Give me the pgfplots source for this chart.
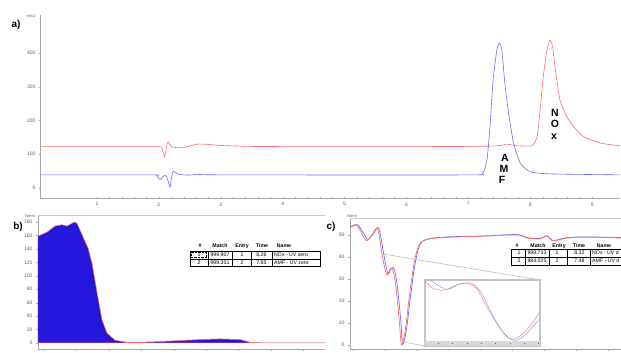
\documentclass[border=0pt]{standalone}
\usepackage{pgfplots}
\pgfplotsset{compat=1.18}
\usepackage{fontspec}
\setmainfont{Liberation Sans}
\definecolor{lred}{rgb}{1,0.42,0.42}
\definecolor{lblue}{rgb}{0.42,0.42,1}
\definecolor{fillblue}{rgb}{0.14,0.09,0.86}
\definecolor{tickc}{rgb}{0.38,0.36,0.48}
\definecolor{axc}{rgb}{0.66,0.66,0.66}
\pgfplotsset{every axis/.append style={scale only axis, anchor=south west,
  tick label style={font=\fontsize{5}{6}\selectfont, text=tickc},
  /pgf/number format/assume math mode=true,
  tick align=outside, axis line style={-,axc}, tick style={axc},
  major tick length=2pt, minor tick length=1pt}}
\newcommand{\tf}{\fontsize{5.2}{6}\selectfont}
\begin{document}
\begin{tikzpicture}
\useasboundingbox (0,0) rectangle (621pt,353pt);
\clip (0,0) rectangle (621pt,353pt);
% ---------- panel a
\begin{axis}[at={(40pt,155pt)}, width=580pt, height=183pt,
  xmin=0.08, xmax=9.45, ymin=-30, ymax=513,
  axis x line=bottom, axis y line=left, axis line style={-,axc},
  xtick={1,...,9}, ytick={0,100,...,400}, minor x tick num=4, minor y tick num=4]
\addplot[lred, line width=0.6pt, smooth, tension=0.35] coordinates {
(0.08,122.5)(1.0,122.5)(1.9,122.5)(2.04,121)(2.07,105)(2.09,92)(2.11,105)(2.13,128)(2.15,136)(2.18,128)(2.22,121)(2.35,119)(2.5,124)(2.62,130)(2.8,129)(3.0,126)(3.5,123)(4.5,122.5)(6.0,122.5)(7.0,123)(7.4,124)(7.55,127)(7.62,130)(7.78,125)(8.0,124)(8.05,128)(8.11,152)(8.16,231)(8.21,330)(8.27,409)(8.32,439)(8.36,420)(8.40,360)(8.48,261)(8.59,212)(8.70,182)(8.86,152)(9.13,133)(9.45,125)};
\addplot[lblue, line width=0.6pt, smooth, tension=0.35] coordinates {
(0.08,38.5)(1.9,38.5)(1.96,37)(2.0,28)(2.02,25)(2.05,30)(2.08,36)(2.12,36)(2.15,20)(2.18,2)(2.2,25)(2.23,50)(2.27,46)(2.32,40)(2.5,38)(2.6,40)(2.8,39)(3.5,38.5)(7.0,38.5)(7.23,43.5)(7.30,83)(7.35,182)(7.40,320)(7.46,409)(7.50,430)(7.54,409)(7.59,310)(7.65,222)(7.73,133)(7.84,73)(8.0,48)(8.32,41.5)(9.45,38.6)};
\end{axis}
\node[font=\fontsize{4}{5}\selectfont, text=tickc] at (31pt,337pt) {mAU};
\node[font=\bfseries\fontsize{10}{11}\selectfont] at (16pt,328pt) {a)};
\begin{scope}[font=\bfseries\fontsize{10.5}{11}\selectfont]
\node at (505pt,195pt) {A};
\node at (504pt,184pt) {M};
\node at (502pt,173pt) {F};
\node at (555pt,240pt) {N};
\node at (555pt,229pt) {O};
\node at (554pt,216pt) {x};
\end{scope}
% ---------- panel b
\begin{axis}[at={(38pt,4pt)}, width=287pt, height=134pt,
  xmin=-0.185, xmax=8.67, ymin=-9, ymax=190.5,
  axis x line*=bottom, axis y line*=left, axis line style={-,axc},
  xtick={0,...,8}, xticklabels={}, ytick={0,20,...,180}]
\addplot[draw=lred, fill=fillblue, line width=0.5pt] coordinates {
(-0.185,159)(0.093,165)(0.34,174)(0.556,176)(0.71,174)(0.864,178)(0.926,180)(1.02,178)(1.20,158)(1.36,141)(1.48,119)(1.64,74)(1.79,34)(1.94,15)(2.19,4)(2.56,1)(3.27,1.5)(3.98,3)(4.81,5)(5.43,6)(6.05,5)(6.36,1)(6.82,0)(8.67,0)} \closedcycle;
\draw[axc!60] (rel axis cs:0,1) -- (rel axis cs:1,1);
\end{axis}
\node[font=\fontsize{4}{5}\selectfont, text=tickc] at (30pt,137pt) {Norm};
\node[font=\bfseries\fontsize{10}{11}\selectfont] at (18pt,126pt) {b)};
% table b
\begin{scope}[line width=0.4pt]
\draw (190pt,102pt) rectangle (320pt,87pt);
\draw (190pt,94pt) -- (320pt,94pt);
\foreach \x in {208,232,251,272} \draw (\x pt,102pt) -- (\x pt,87pt);
\draw[densely dotted] (191.5pt,100.5pt) rectangle (206.5pt,95.5pt);
\node[font=\bfseries\tf] at (200pt,107pt) {\#};
\node[font=\bfseries\tf] at (220pt,107pt) {Match};
\node[font=\bfseries\tf] at (242pt,107pt) {Entry};
\node[font=\bfseries\tf] at (262pt,107pt) {Time};
\node[font=\bfseries\tf] at (284pt,107pt) {Name};
\node[font=\tf] at (199pt,98pt) {1};
\node[font=\tf] at (220pt,98pt) {999.907};
\node[font=\tf] at (242pt,98pt) {1};
\node[font=\tf, anchor=east] at (270pt,98pt) {8.26};
\node[font=\tf, anchor=west, inner sep=1pt] at (273pt,98pt) {NOx - UV zero};
\node[font=\tf] at (199pt,90.5pt) {2};
\node[font=\tf] at (220pt,90.5pt) {999.351};
\node[font=\tf] at (242pt,90.5pt) {2};
\node[font=\tf, anchor=east] at (270pt,90.5pt) {7.65};
\node[font=\tf, anchor=west, inner sep=1pt] at (273pt,90.5pt) {AMF - UV zero};
\end{scope}
% ---------- panel c
\begin{axis}[at={(350pt,4pt)}, width=271pt, height=131pt,
  xmin=-0.094, xmax=8.4, ymin=-1.8, ymax=57.7,
  axis x line*=bottom, axis y line*=left, axis line style={-,axc},
  xtick={0,...,8}, xticklabels={}, ytick={0,10,...,50}]
\addplot[lblue, line width=0.7pt, smooth, tension=0.5] coordinates {
(-0.09,53.8)(0.14,54.6)(0.33,50.8)(0.46,48.0)(0.62,50.2)(0.77,53.4)(0.84,51.6)(0.96,41.5)(1.09,32.6)(1.18,34.2)(1.27,35.2)(1.37,29.0)(1.49,12.5)(1.56,0.3)(1.68,7.6)(1.81,23)(1.96,38)(2.12,46.2)(2.43,48.4)(3.13,49.2)(4.2,49.6)(5.14,50.2)(5.45,48.8)(5.86,48.4)(6.08,49.7)(6.27,47.5)(6.71,48.8)(7.34,49.1)(8.4,48.8)};
\addplot[lred, line width=0.7pt, smooth, tension=0.5] coordinates {
(-0.09,53.4)(0.12,54.3)(0.30,50.0)(0.43,47.3)(0.58,49.8)(0.73,53.0)(0.80,51.2)(0.92,40.5)(1.05,32.0)(1.14,33.8)(1.23,34.8)(1.33,28.0)(1.45,11.0)(1.52,0)(1.64,7.0)(1.77,22.5)(1.92,37.5)(2.08,45.8)(2.40,48.2)(3.13,49)(4.2,49.5)(5.14,50)(5.45,48.6)(5.86,48.2)(6.08,49.5)(6.27,47.3)(6.71,48.6)(7.34,49)(8.4,48.6)};
\draw[axc!60] (rel axis cs:0,1) -- (rel axis cs:1,1);
\end{axis}
\node[font=\fontsize{4}{5}\selectfont, text=tickc] at (352pt,137pt) {Norm};
\node[font=\bfseries\fontsize{10}{11}\selectfont] at (331pt,126pt) {c)};
\draw[gray!60, line width=0.5pt] (383pt,99pt) -- (540pt,73pt);
\draw[gray!60, line width=0.5pt] (403pt,11pt) -- (425pt,7pt);
% inset
\begin{axis}[at={(425pt,7pt)}, width=115pt, height=66pt,
  xmin=0, xmax=10, ymin=-0.82, ymax=10,
  axis line style={gray!45, line width=1.2pt}, ticks=none,
  axis background/.style={fill=white}]
\fill[gray!30] (rel axis cs:0,0) rectangle (rel axis cs:1,0.076);
\pgfplotsinvokeforeach{1.13,2.35,3.65,4.87,6.09,7.39,8.61,9.83}{
  \fill[gray!70!black] (axis cs:#1,-0.55) rectangle ++(1.3pt,1.5pt);}
\addplot[red!50, line width=0.5pt, smooth] coordinates {
(0,10.2)(0.09,9.72)(0.72,8.6)(1.74,8.36)(2.75,9.18)(3.62,9.45)(4.49,8.6)(5.36,5.63)(6.52,2.08)(7.54,0.27)(8.55,1.26)(9.42,3.17)(10,4.81)};
\addplot[blue!40, line width=0.5pt, smooth] coordinates {
(0.25,10.3)(0.43,10)(1.88,8.47)(3.04,9.34)(4.06,9.45)(4.93,7.8)(5.94,3.99)(7.1,0.71)(7.97,0.16)(8.84,1.26)(10,3.72)};
\end{axis}
% table c
\begin{scope}[line width=0.4pt]
\draw (625pt,104pt) -- (511pt,104pt) -- (511pt,88pt) -- (625pt,88pt);
\draw (511pt,96pt) -- (625pt,96pt);
\foreach \x in {525,549,567,590} \draw (\x pt,104pt) -- (\x pt,88pt);
\node[font=\bfseries\tf] at (517pt,107pt) {\#};
\node[font=\bfseries\tf] at (538pt,107pt) {Match};
\node[font=\bfseries\tf] at (559pt,107pt) {Entry};
\node[font=\bfseries\tf] at (579pt,107pt) {Time};
\node[font=\bfseries\tf] at (604pt,107pt) {Name};
\node[font=\tf] at (519pt,100pt) {1};
\node[font=\tf] at (537pt,100pt) {999.733};
\node[font=\tf] at (557pt,100pt) {1};
\node[font=\tf, anchor=east] at (588pt,100pt) {8.32};
\node[font=\tf, anchor=west, inner sep=1pt] at (591pt,100pt) {NOx - UV d};
\node[font=\tf] at (519pt,92pt) {2};
\node[font=\tf] at (537pt,92pt) {984.025};
\node[font=\tf] at (557pt,92pt) {2};
\node[font=\tf, anchor=east] at (588pt,92pt) {7.48};
\node[font=\tf, anchor=west, inner sep=1pt] at (591pt,92pt) {AMF - UV d};
\end{scope}
\end{tikzpicture}
\end{document}
